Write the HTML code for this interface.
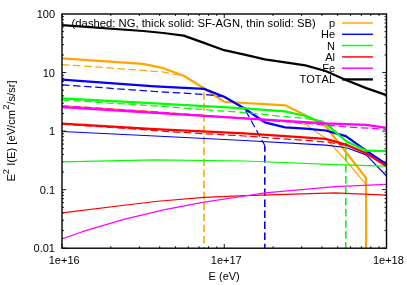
<!DOCTYPE html>
<html><head><meta charset="utf-8"><style>
html,body{margin:0;padding:0;background:#fff;}
svg{display:block}
text{font-kerning:none;font-family:"Liberation Sans",sans-serif;font-size:11px;fill:#000}
</style></head><body>
<svg width="407" height="285" viewBox="0 0 407 285" style="will-change:transform;opacity:0.999">
<rect width="407" height="285" fill="#fff"/>
<clipPath id="c"><rect x="62.0" y="14.0" width="324.5" height="234.2"/></clipPath>
<path d="M62.00,248.2 v-4.2 M62.00,14.0 v4.2 M110.84,248.2 v-2.0 M110.84,14.0 v2.0 M139.41,248.2 v-2.0 M139.41,14.0 v2.0 M159.68,248.2 v-2.0 M159.68,14.0 v2.0 M175.41,248.2 v-2.0 M175.41,14.0 v2.0 M188.26,248.2 v-2.0 M188.26,14.0 v2.0 M199.12,248.2 v-2.0 M199.12,14.0 v2.0 M208.53,248.2 v-2.0 M208.53,14.0 v2.0 M216.83,248.2 v-2.0 M216.83,14.0 v2.0 M224.25,248.2 v-4.2 M224.25,14.0 v4.2 M273.09,248.2 v-2.0 M273.09,14.0 v2.0 M301.66,248.2 v-2.0 M301.66,14.0 v2.0 M321.93,248.2 v-2.0 M321.93,14.0 v2.0 M337.66,248.2 v-2.0 M337.66,14.0 v2.0 M350.51,248.2 v-2.0 M350.51,14.0 v2.0 M361.37,248.2 v-2.0 M361.37,14.0 v2.0 M370.78,248.2 v-2.0 M370.78,14.0 v2.0 M379.08,248.2 v-2.0 M379.08,14.0 v2.0 M62.0,248.20 h4.2 M386.5,248.20 h-4.2 M62.0,230.57 h2.0 M386.5,230.57 h-2.0 M62.0,220.26 h2.0 M386.5,220.26 h-2.0 M62.0,212.95 h2.0 M386.5,212.95 h-2.0 M62.0,207.28 h2.0 M386.5,207.28 h-2.0 M62.0,202.64 h2.0 M386.5,202.64 h-2.0 M62.0,198.72 h2.0 M386.5,198.72 h-2.0 M62.0,195.32 h2.0 M386.5,195.32 h-2.0 M62.0,192.33 h2.0 M386.5,192.33 h-2.0 M62.0,189.65 h4.2 M386.5,189.65 h-4.2 M62.0,172.02 h2.0 M386.5,172.02 h-2.0 M62.0,161.71 h2.0 M386.5,161.71 h-2.0 M62.0,154.40 h2.0 M386.5,154.40 h-2.0 M62.0,148.73 h2.0 M386.5,148.73 h-2.0 M62.0,144.09 h2.0 M386.5,144.09 h-2.0 M62.0,140.17 h2.0 M386.5,140.17 h-2.0 M62.0,136.77 h2.0 M386.5,136.77 h-2.0 M62.0,133.78 h2.0 M386.5,133.78 h-2.0 M62.0,131.10 h4.2 M386.5,131.10 h-4.2 M62.0,113.47 h2.0 M386.5,113.47 h-2.0 M62.0,103.16 h2.0 M386.5,103.16 h-2.0 M62.0,95.85 h2.0 M386.5,95.85 h-2.0 M62.0,90.18 h2.0 M386.5,90.18 h-2.0 M62.0,85.54 h2.0 M386.5,85.54 h-2.0 M62.0,81.62 h2.0 M386.5,81.62 h-2.0 M62.0,78.22 h2.0 M386.5,78.22 h-2.0 M62.0,75.23 h2.0 M386.5,75.23 h-2.0 M62.0,72.55 h4.2 M386.5,72.55 h-4.2 M62.0,54.92 h2.0 M386.5,54.92 h-2.0 M62.0,44.61 h2.0 M386.5,44.61 h-2.0 M62.0,37.30 h2.0 M386.5,37.30 h-2.0 M62.0,31.63 h2.0 M386.5,31.63 h-2.0 M62.0,26.99 h2.0 M386.5,26.99 h-2.0 M62.0,23.07 h2.0 M386.5,23.07 h-2.0 M62.0,19.67 h2.0 M386.5,19.67 h-2.0 M62.0,16.68 h2.0 M386.5,16.68 h-2.0" stroke="#000" stroke-width="0.9" fill="none"/>
<text x="71.6" y="27.3" style="font-size:11.25px" textLength="244.2" lengthAdjust="spacingAndGlyphs">(dashed: NG, thick solid: SF-AGN, thin solid: SB)</text>
<text x="335" y="27.0" text-anchor="end">p</text><text x="335" y="38.3" text-anchor="end">He</text><text x="335" y="49.5" text-anchor="end">N</text><text x="335" y="60.9" text-anchor="end">Al</text><text x="335" y="72.2" text-anchor="end">Fe</text><text x="335" y="83.4" text-anchor="end">TOTAL</text>
<g clip-path="url(#c)">
<polyline points="62.0,64.5 143.1,70.4 163.4,72.1 183.7,75.8 204.0,88.3" fill="none" stroke="#ffa500" stroke-width="1.25" stroke-dasharray="7.5 3.6" stroke-linejoin="round"/><polyline points="204.0,88.3 204.0,248.2" fill="none" stroke="#ffa500" stroke-width="1.6" stroke-dasharray="7.5 3.55" stroke-linejoin="round" stroke-dashoffset="7.08"/>
<polyline points="62.0,58.4 143.1,63.8 163.4,68.2 183.7,75.8 204.0,88.3 224.2,101.8 244.5,103.0 264.8,104.2 285.1,105.3 305.4,115.2 325.6,126.0 345.9,152.0 366.1,178.0 366.1,248.0" fill="none" stroke="#ffa500" stroke-width="2.25" stroke-linejoin="round"/>
<polyline points="62.0,105.7 155.0,111.6 183.7,114.0 244.5,118.2 285.1,121.0 305.4,124.3 325.6,138.2 345.9,160.5 366.1,184.4" fill="none" stroke="#ffa500" stroke-width="1.2" stroke-linejoin="round"/>
<polyline points="62.0,84.8 155.0,91.5 204.0,94.4 224.2,96.7 244.5,108.5 264.8,145.5" fill="none" stroke="#0000ff" stroke-width="1.25" stroke-dasharray="7.5 3.6" stroke-linejoin="round"/><polyline points="264.8,145.5 264.8,248.2" fill="none" stroke="#0000ff" stroke-width="1.6" stroke-dasharray="7.5 3.55" stroke-linejoin="round" stroke-dashoffset="1.3"/>
<polyline points="62.0,79.6 155.0,86.3 204.0,88.9 224.2,96.7 244.5,108.5 264.8,122.3 285.1,127.3 305.4,128.7 325.6,130.5 345.9,136.2 366.2,150.7 386.5,164.2" fill="none" stroke="#0000ff" stroke-width="2.25" stroke-linejoin="round"/>
<polyline points="62.0,131.5 155.0,136.0 244.5,140.5 325.6,145.2 345.9,147.5 366.2,154.9 386.5,176.0" fill="none" stroke="#0000ff" stroke-width="1.2" stroke-linejoin="round"/>
<polyline points="62.0,100.0 155.0,105.9 244.5,112.6 305.4,118.5 325.6,121.5 345.8,141.0" fill="none" stroke="#00ff00" stroke-width="1.25" stroke-dasharray="7.5 3.6" stroke-linejoin="round"/><polyline points="345.8,141.0 345.8,248.2" fill="none" stroke="#00ff00" stroke-width="1.6" stroke-dasharray="7.5 3.55" stroke-linejoin="round" stroke-dashoffset="9.23"/>
<polyline points="62.0,98.3 155.0,103.3 244.5,108.4 285.1,111.3 305.4,116.0 325.6,123.5 345.9,141.0 366.2,150.7 386.5,151.2" fill="none" stroke="#00ff00" stroke-width="2.25" stroke-linejoin="round"/>
<polyline points="62.0,161.8 155.0,159.8 245.0,161.0 335.0,164.6 386.5,166.2" fill="none" stroke="#00ff00" stroke-width="1.2" stroke-linejoin="round"/>
<polyline points="62.0,124.0 122.8,128.2 170.0,131.7 244.5,136.0 325.6,141.9 345.9,145.2" fill="none" stroke="#ff0000" stroke-width="1.25" stroke-dasharray="7.5 3.6" stroke-linejoin="round"/>
<polyline points="62.0,123.7 155.0,129.1 244.5,133.3 325.6,138.9 345.9,144.6 366.2,153.2 386.5,166.0" fill="none" stroke="#ff0000" stroke-width="2.25" stroke-linejoin="round"/>
<polyline points="62.0,212.8 155.0,201.5 204.0,197.3 245.0,195.6 335.0,192.8 386.5,195.2" fill="none" stroke="#ff0000" stroke-width="1.2" stroke-linejoin="round"/>
<polyline points="62.0,107.2 155.0,112.8 244.5,118.3 325.6,123.3 366.2,124.9 386.5,127.9" fill="none" stroke="#ff00ff" stroke-width="2.25" stroke-linejoin="round"/>
<polyline points="62.0,239.0 82.3,231.7 123.8,219.4 164.7,209.6 204.0,202.2 245.0,196.0 265.0,192.8 335.0,186.7 386.5,184.3" fill="none" stroke="#ff00ff" stroke-width="1.2" stroke-linejoin="round"/>
<polyline points="62.0,105.8 155.0,111.8 244.5,118.4 325.6,125.0 345.9,126.9 386.5,129.3" fill="none" stroke="#ff00ff" stroke-width="1.25" stroke-dasharray="7.5 3.6" stroke-linejoin="round"/>
<polyline points="62.0,25.2 143.1,31.0 163.4,33.0 183.7,35.6 204.0,42.9 224.2,50.2 244.5,54.6 264.8,59.4 285.1,62.4 305.4,65.4 325.6,71.0 345.9,80.0 366.2,88.1 386.5,95.1" fill="none" stroke="#000000" stroke-width="2.25" stroke-linejoin="round"/>
</g>
<line x1="342" x2="372.9" y1="23.0" y2="23.0" stroke="#ffa500" stroke-width="1.45"/><line x1="342" x2="372.9" y1="34.3" y2="34.3" stroke="#0000ff" stroke-width="1.45"/><line x1="342" x2="372.9" y1="45.5" y2="45.5" stroke="#00ff00" stroke-width="1.45"/><line x1="342" x2="372.9" y1="56.9" y2="56.9" stroke="#ff0000" stroke-width="1.45"/><line x1="342" x2="372.9" y1="68.2" y2="68.2" stroke="#ff00ff" stroke-width="1.45"/><line x1="342" x2="372.9" y1="79.4" y2="79.4" stroke="#000000" stroke-width="2.3"/>
<rect x="62.0" y="14.0" width="324.5" height="234.2" fill="none" stroke="#000" stroke-width="1.4"/>
<text x="55" y="18.1" text-anchor="end">100</text><text x="55" y="76.7" text-anchor="end">10</text><text x="55" y="135.2" text-anchor="end">1</text><text x="55" y="193.7" text-anchor="end">0.1</text><text x="55" y="252.3" text-anchor="end">0.01</text><text x="64.2" y="263.8" text-anchor="middle">1e+16</text><text x="226.3" y="263.8" text-anchor="middle">1e+17</text><text x="388.4" y="263.8" text-anchor="middle">1e+18</text>
<text x="224.2" y="280.4" text-anchor="middle">E (eV)</text>
<text transform="translate(14.8,131) rotate(-90)" text-anchor="middle" style="font-size:11.2px">E<tspan dy="-5.8" style="font-size:9.4px">2</tspan><tspan dy="5.8"> I(E) [eV/cm</tspan><tspan dy="-5.8" style="font-size:9.4px">2</tspan><tspan dy="5.8">/s/sr]</tspan></text>
</svg>
</body></html>
